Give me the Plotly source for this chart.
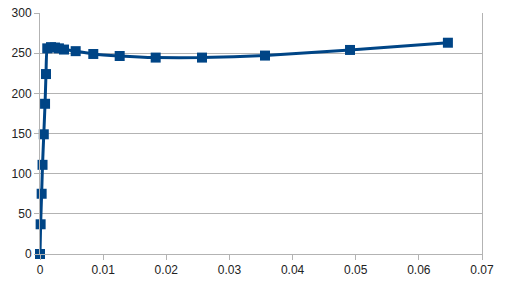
import plotly.graph_objects as go

x_vals = [0, 0.0001, 0.00026, 0.0004, 0.0006, 0.0008, 0.00095, 0.00115, 0.00174,
          0.00238, 0.0030, 0.0038, 0.00565, 0.00844, 0.01262, 0.01832, 0.02566,
          0.03563, 0.0491, 0.0646]
y_vals = [0, 37, 75, 111, 149, 187, 224, 256, 257.5, 257, 256, 254.5, 252.5, 249,
          246.5, 244.5, 244.5, 247, 254, 263]

x_ticks = [0, 0.01, 0.02, 0.03, 0.04, 0.05, 0.06, 0.07]
x_tick_text = ["0", "0.01", "0.02", "0.03", "0.04", "0.05", "0.06", "0.07"]
y_ticks = [0, 50, 100, 150, 200, 250, 300]

fig = go.Figure()
fig.add_trace(go.Scatter(
    x=x_vals, y=y_vals, mode="lines+markers", cliponaxis=False,
    line=dict(color="#004586", width=3, shape="spline", smoothing=0.4),
    marker=dict(symbol="square", size=10, color="#004586"),
    showlegend=False,
))

fig.update_layout(
    width=506, height=285,
    margin=dict(l=40, r=24, t=13, b=31),
    paper_bgcolor="white", plot_bgcolor="white",
    font=dict(family="Liberation Sans", size=12, color="#222222"),
    xaxis=dict(range=[0, 0.07], tickvals=x_ticks, ticktext=x_tick_text,
               showgrid=False, zeroline=False, showline=True, linecolor="#b3b3b3",
               linewidth=1, ticks="outside", ticklen=5, tickcolor="#b3b3b3",
               automargin=False),
    yaxis=dict(range=[0, 300], tickvals=y_ticks, showgrid=True, gridcolor="#b3b3b3",
               zeroline=False, showline=True, linecolor="#b3b3b3", linewidth=1,
               mirror=True, ticks="outside", ticklen=5, tickcolor="#b3b3b3",
               automargin=False),
)

fig.write_html("out.html")
